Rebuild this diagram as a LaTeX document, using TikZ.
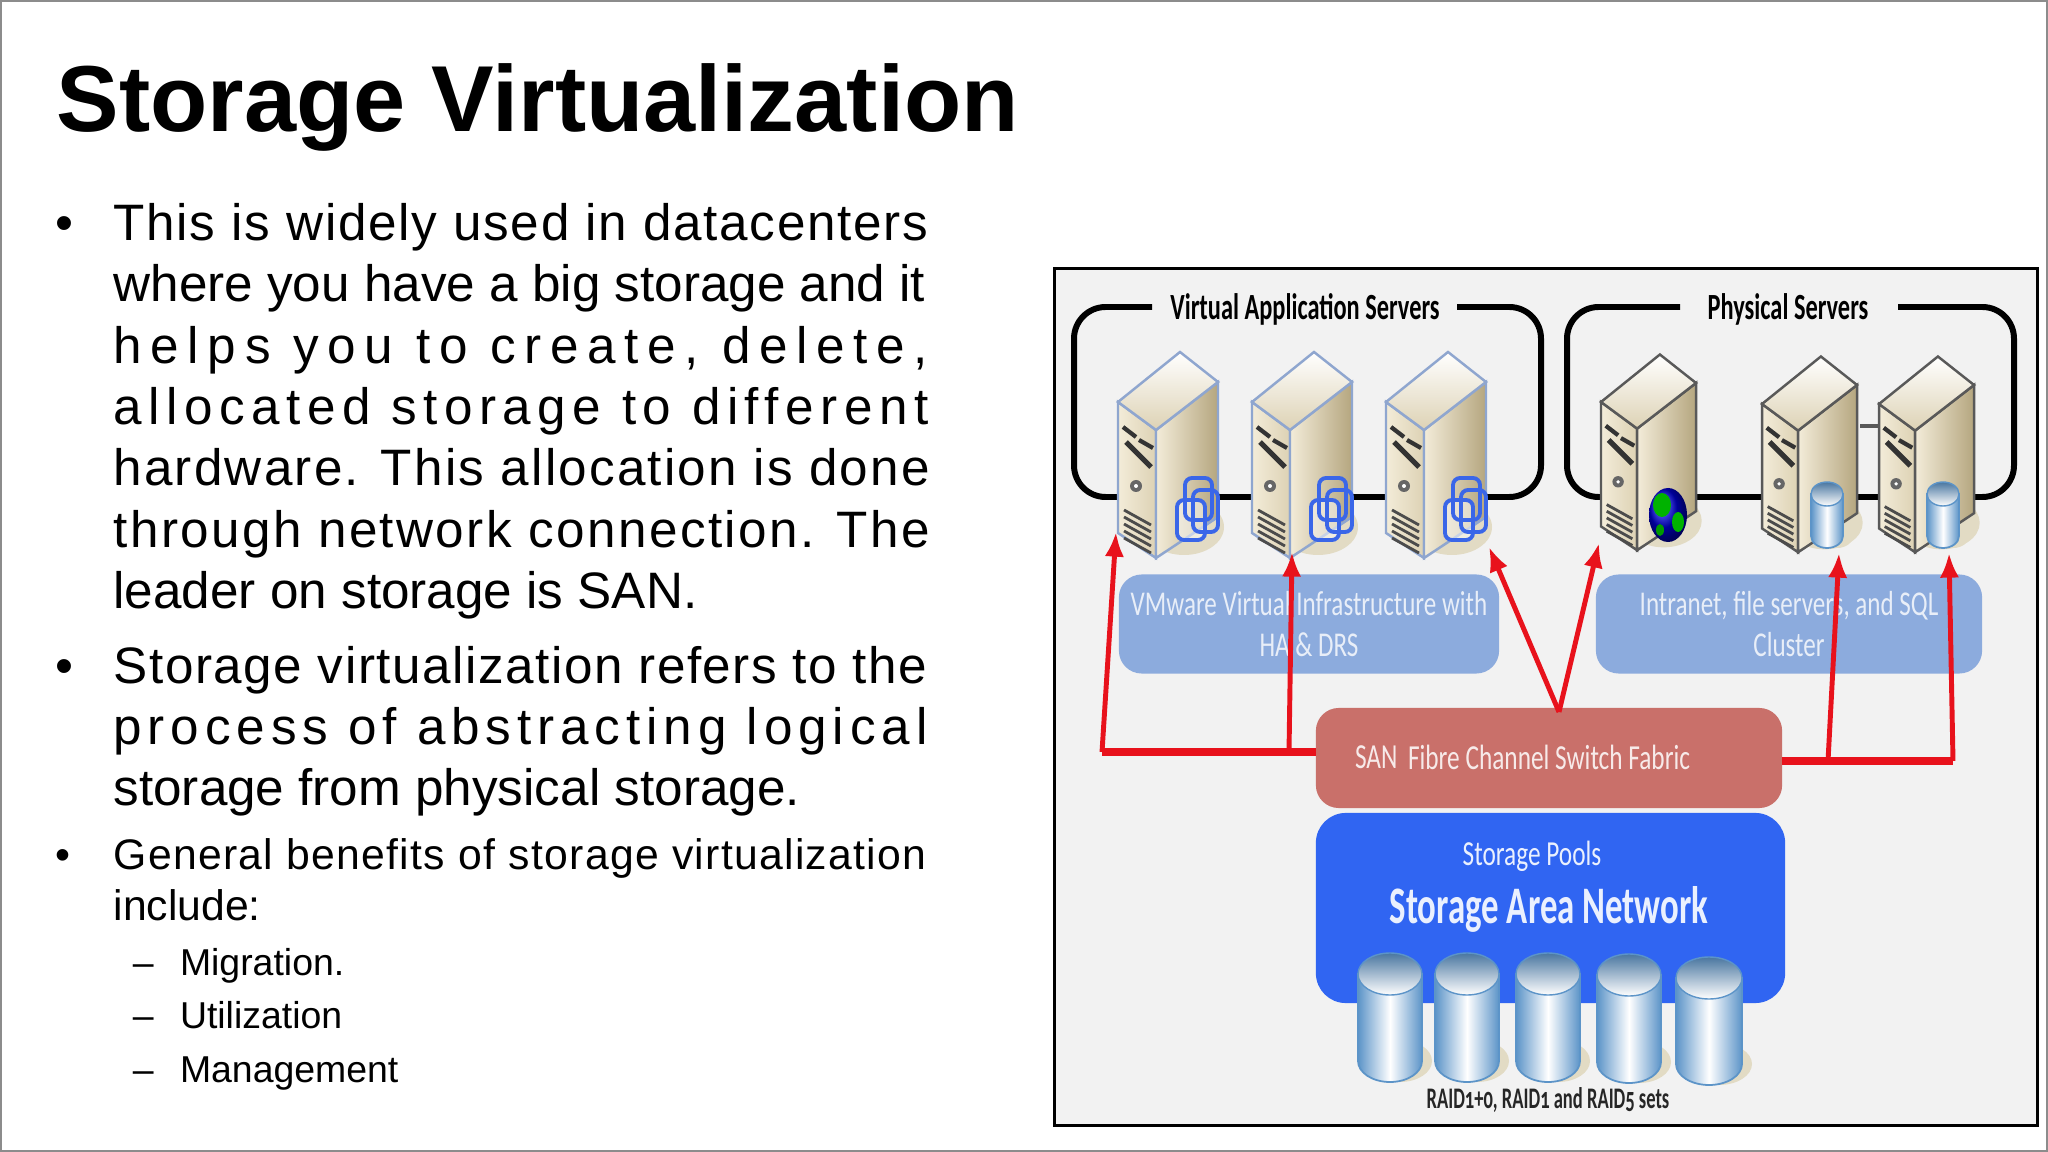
\documentclass[tikz,border=0pt]{standalone}
\usepackage{fontspec}
\usepackage{tikz}
\usetikzlibrary{arrows.meta}
\setmainfont{Liberation Sans}
\newfontfamily\figfont[FakeStretch=0.72]{Carlito}
\newfontfamily\headfont[FakeStretch=0.66]{Carlito}
\newfontfamily\raidfont[FakeStretch=0.62,Numbers=OldStyle]{Carlito}
\newcommand{\spaced}[1]{\addfontfeature{LetterSpace=#1}}
\definecolor{sandedge}{HTML}{E2DBC4}
\definecolor{sandlight}{HTML}{F3ECD9}
\definecolor{sandmid}{HTML}{DDD2B4}
\definecolor{sanddark}{HTML}{B5A67F}
\definecolor{panelblue}{HTML}{8CABDD}
\definecolor{sanred}{HTML}{C9706A}
\definecolor{poolblue}{HTML}{3065F2}
\definecolor{drumblue}{HTML}{5C94C8}
\definecolor{arrowred}{HTML}{E8121C}
\definecolor{vmblue}{HTML}{3A66E8}
\definecolor{vmedge}{HTML}{8FA6CF}
\tikzset{
    slidetext/.style={anchor=base west, inner sep=0pt, outer sep=0pt},
    bigtext/.style={slidetext, font=\fontsize{14.57}{17}\selectfont},
    midtext/.style={slidetext, font=\fontsize{12.15}{14}\selectfont},
    subtext/.style={slidetext, font=\fontsize{10.64}{13}\selectfont},
    figtext/.style={inner sep=0pt, outer sep=0pt, font=\figfont\fontsize{10}{12}\selectfont},
    headtext/.style={inner sep=0pt, outer sep=0pt, font=\headfont\bfseries\fontsize{10.5}{12}\selectfont},
    roundbox/.style={rounded corners=6.5pt, inner sep=0pt, outer sep=0pt, align=center},
    bracket/.style={line width=1.7pt, rounded corners=9pt},
    redthin/.style={draw=arrowred, line width=1.4pt, -{Latex[length=7pt,width=5.5pt]}},
    redthick/.style={draw=arrowred, line width=2.3pt}
}
\newcommand{\server}[4]{
    \begin{scope}[shift={(#1,#2)},scale=#3]
        \fill [sandedge] (66,125) ellipse [x radius=40, y radius=28];
        \shade [left color=sandlight, right color=sandmid, draw=#4, line width=0.7pt] (0,0) -- (38,28) -- (38,156) -- (0,131) -- cycle;
        \shade [left color=sandlight, right color=sanddark, draw=#4, line width=0.7pt] (38,28) -- (100,-20) -- (100,115) -- (38,156) -- cycle;
        \shade [bottom color=sandmid, top color=white, draw=#4, line width=0.7pt] (0,0) -- (62,-50) -- (100,-20) -- (38,28) -- cycle;
        \draw [black!80, line width=1.2pt] (5,25) -- (18,35);
        \draw [black!80, line width=1.2pt] (21,38) -- (35,46);
        \draw [black!80, line width=1.5pt] (8,40) -- (33,65);
        \fill [black!60] (18,84) circle [radius=6];
        \fill [white] (18,84) circle [radius=2];
        \foreach \v in {0,7,14,21,28} {
            \draw [black!70, line width=0.8pt] (6,108+\v) -- (33,123+\v);
        }
    \end{scope}
}
\newcommand{\drum}[5]{
    \fill [sandedge] ({#1+10},{#3-#5}) ellipse [x radius=#4, y radius=#5];
    \shade [left color=drumblue, right color=drumblue, middle color=white, draw=drumblue, line width=0.5pt]
        ({#1-#4},{#2+#5}) -- ({#1-#4},{#3-#5}) arc [start angle=180, end angle=0, x radius=#4, y radius=#5] -- ({#1+#4},{#2+#5}) -- cycle;
    \shade [top color=drumblue!80!black, bottom color=white, draw=drumblue, line width=0.4pt] (#1,{#2+#5}) ellipse [x radius=#4, y radius=#5];
}
\newcommand{\vmicon}[1]{
    \begin{scope}[shift={(#1,0)}]
        \draw [vmblue, line width=1.1pt, rounded corners=2pt, fill=white, fill opacity=0.5] (1177,500) rectangle (1205,540);
        \draw [vmblue, line width=1.1pt, rounded corners=2pt] (1185,478) rectangle (1212,520);
        \draw [vmblue, line width=1.1pt, rounded corners=2pt] (1193,490) rectangle (1218,532);
    \end{scope}
}
\begin{document}
\begin{tikzpicture}[x=0.01cm,y=-0.01cm]
        \useasboundingbox (0,0) rectangle (2048,1152);
        \draw [black!45, line width=0.5pt, fill=white] (1,1) rectangle (2047,1151);
        \node [slidetext, font=\bfseries\fontsize{26.65}{30}\selectfont] (title) at (57,132) {Storage Virtualization};

        \node [bigtext] (dot1) at (55.5,240.3) {•};
        \node [bigtext] (l1) at (113.6,240.3) {\spaced{3.4}This is widely used in datacenters};
        \node [bigtext] (l2) at (113.6,301.7) {where you have a big storage and it};
        \node [bigtext] (l3) at (113.6,363.1) {\spaced{16.9}helps you to create, delete,};
        \node [bigtext] (l4) at (113.6,424.5) {\spaced{12.7}allocated storage to different};
        \node [bigtext] (l5) at (113.6,485.9) {\spaced{4.3}hardware. This allocation is done};
        \node [bigtext] (l6) at (113.6,547.3) {\spaced{4.65}through network connection. The};
        \node [bigtext] (l7) at (113.6,608.7) {leader on storage is SAN.};
        \node [bigtext] (dot2) at (55.5,683.2) {•};
        \node [bigtext] (l8) at (113.6,683.2) {\spaced{3}Storage virtualization refers to the};
        \node [bigtext] (l9) at (113.6,744.7) {\spaced{11.5}process of abstracting logical};
        \node [bigtext] (l10) at (113.6,805.7) {storage from physical storage.};
        \node [midtext] (dot3) at (55.5,869.7) {•};
        \node [midtext] (l11) at (113.6,869.7) {\spaced{3.05}General benefits of storage virtualization};
        \node [midtext] (l12) at (113.6,920.7) {include:};
        \node [subtext] (dash1) at (133,975.7) {–};
        \node [subtext] (s1) at (180,975.7) {Migration.};
        \node [subtext] (dash2) at (133,1028.7) {–};
        \node [subtext] (s2) at (180,1028.7) {Utilization};
        \node [subtext] (dash3) at (133,1082.7) {–};
        \node [subtext] (s3) at (180,1082.7) {Management};

        \node [draw=black, line width=0.8pt, fill=black!5, minimum width=9.82cm, minimum height=8.56cm, inner sep=0pt, outer sep=0pt] (figure) at (1546,697) {};

        \draw [bracket] (1152,307) -- (1074,307) -- (1074,497) -- (1541,497) -- (1541,307) -- (1457,307);
        \draw [bracket] (1680,307) -- (1567,307) -- (1567,497) -- (2014,497) -- (2014,307) -- (1898,307);
        \draw [black!65, line width=1.2pt] (1860,426) -- (1885,426);
        \node [headtext] (vas) at (1305,309) {Virtual Application Servers};
        \node [headtext] (ps) at (1788,309) {Physical Servers};

        \foreach \x in {1118,1252,1386} {
            \server{\x}{402}{1}{vmedge}
        }
        \server{1601}{402}{0.95}{black!65}
        \server{1762}{404}{0.95}{black!65}
        \server{1879}{404}{0.95}{black!65}
        \foreach \d in {0,134,268} {
            \vmicon{\d}
        }

        \shade [ball color=blue!85!black] (1668,515) ellipse [x radius=19, y radius=27];
        \fill [green!70!black] (1662,505) ellipse [x radius=9, y radius=12];
        \fill [green!70!black] (1678,522) ellipse [x radius=6, y radius=10];
        \fill [green!60!black] (1660,530) ellipse [x radius=4, y radius=6];
        \drum{1827}{482}{548}{16}{12}
        \drum{1943}{482}{548}{16}{12}

        \node [roundbox, fill=panelblue, minimum width=3.8cm, minimum height=0.99cm, text=white!80!panelblue, font=\figfont\fontsize{9.9}{11.6}\selectfont] (vmbox) at (1309,624) {VMware Virtual Infrastructure with\\HA \& DRS};
        \node [roundbox, fill=panelblue, minimum width=3.86cm, minimum height=0.99cm, text=white!80!panelblue, font=\figfont\fontsize{9.9}{11.6}\selectfont] (intrabox) at (1789,624) {Intranet, file servers, and SQL\\Cluster};
        \node [roundbox, fill=sanred, minimum width=4.66cm, minimum height=1cm] (san) at (1549,758) {};
        \node [figtext, anchor=west, text=white!85!sanred] (santext) at (1355,757) {SAN};
        \node [figtext, anchor=west, text=white!85!sanred] (fabric) at (1408,757) {Fibre Channel Switch Fabric};
        \node [roundbox, fill=poolblue, minimum width=4.69cm, minimum height=1.9cm, rounded corners=8.5pt] (pool) at (1550.5,908) {};
        \node [figtext, text=white!90!poolblue] (pools) at (1532,856) {Storage Pools};
        \node [headtext, text=white!90!poolblue, font=\headfont\bfseries\fontsize{15}{18}\selectfont] (sanname) at (1549,909) {Storage Area Network};

        \drum{1390}{953}{1082}{32}{21}
        \drum{1467}{953}{1082}{32}{21}
        \drum{1548}{953}{1082}{32}{21}
        \drum{1629}{954}{1083}{32}{21}
        \drum{1709}{957}{1085}{33}{21}
        \node [figtext, text=black!85, font=\raidfont\bfseries\fontsize{8.5}{11}\selectfont] (raid) at (1548,1100) {RAID1+0, RAID1 and RAID5 sets};

        \coordinate (leftend) at (1102,752);
        \coordinate (leftjoin) at (1289,752);
        \coordinate (rightend) at (1953,761);
        \coordinate (rightjoin) at (1828,761);
        \coordinate (apex) at (1559,712);
        \coordinate (tip1) at (1116,532);
        \coordinate (tip2) at (1292,552);
        \coordinate (tip3) at (1489,547);
        \coordinate (tip4) at (1599,543);
        \coordinate (tip5) at (1839,553);
        \coordinate (tip6) at (1949,553);
        \draw [redthick] (leftend) -- (san.west |- leftend);
        \draw [redthick] (san.east |- rightend) -- (rightend);
        \draw [redthin] (leftend) -- (tip1);
        \draw [redthin] (leftjoin) -- (tip2);
        \draw [redthin] (apex) -- (tip3);
        \draw [redthin] (apex) -- (tip4);
        \draw [redthin] (rightjoin) -- (tip5);
        \draw [redthin] (rightend) -- (tip6);
    \end{tikzpicture}
\end{document}
